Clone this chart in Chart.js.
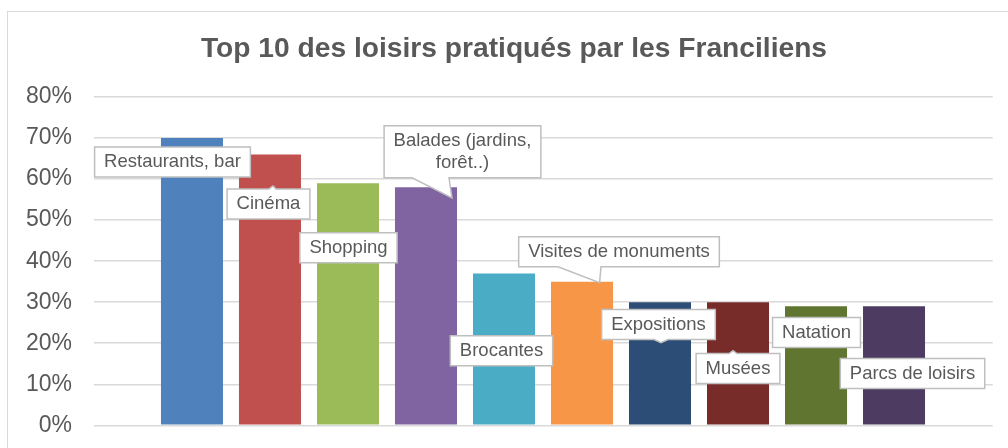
<!DOCTYPE html>
<html><head><meta charset="utf-8">
<script src="https://cdn.jsdelivr.net/npm/chart.js@4/dist/chart.umd.min.js"></script>
<style>
html,body{margin:0;padding:0;background:#fff;overflow:hidden;width:1008px;height:448px}
#frame{position:absolute;left:7px;top:11px;width:1100px;height:600px;border:1.5px solid #d9d9d9;box-sizing:border-box}
#wrap{position:absolute;left:0;top:0;width:1008px;height:448px}
</style></head><body>
<div id="frame"></div>
<div id="wrap"><canvas id="c" width="1008" height="448"></canvas></div>
<script>
// ---- data ----
const categories = ["Restaurants, bar", "Cinéma", "Shopping", "Balades (jardins,\nforêt..)", "Brocantes",
  "Visites de monuments", "Expositions", "Musées", "Natation", "Parcs de loisirs"];
const values = [70, 66, 59, 58, 37, 35, 30, 30, 29, 29];
const yTicks = [0, 10, 20, 30, 40, 50, 60, 70, 80];
const chartTitle = "Top 10 des loisirs pratiqués par les Franciliens";

// ---- styles ----
const barColors = ["#4F81BD", "#C0504D", "#9BBB59", "#8064A2", "#4BACC6",
  "#F79646", "#2C4D75", "#772C2A", "#5F7530", "#4D3B62"];
// callout placement: box centre offset from bar top-centre; pointer relative to box centre
const calloutPlacement = [
  {dx: -19.5, dy: 24},
  {dx: -1.5, dy: 49.4, ptr: {edge: "top", b1: 0.5, b2: 7.5, tx: 4.5, ty: -18}},
  {dx: 0.5, dy: 64.6},
  {dx: 36.5, dy: -35.5, ptr: {edge: "bottom", b1: -50.5, b2: -13.5, tx: -10.5, ty: 46}},
  {dx: -2.5, dy: 77.2},
  {dx: 37, dy: -30, ptr: {edge: "bottom", b1: -61, b2: -18, tx: -19.4, ty: 31}},
  {dx: -1.5, dy: 22.4, ptr: {edge: "bottom", b1: -4.5, b2: 9.5, tx: 2.5, ty: 18}},
  {dx: 0, dy: 66.4, ptr: {edge: "top", b1: -9, b2: -1, tx: -5, ty: -18}},
  {dx: 0.5, dy: 26.3},
  {dx: 18.5, dy: 67.3}
];

const FONT = "'Liberation Sans', Arial, sans-serif";

const calloutPlugin = {
  id: "callouts",
  afterDatasetsDraw(chart) {
    const ctx = chart.ctx;
    const meta = chart.getDatasetMeta(0);
    ctx.save();
    ctx.font = "18.5px " + FONT;
    meta.data.forEach((el, i) => {
      const p = calloutPlacement[i];
      const lines = categories[i].split("\n");
      const tw = Math.max(...lines.map(l => ctx.measureText(l).width));
      const w = tw + 19;
      const lh = 22.3;
      const h = lines.length === 1 ? 30 : 52;
      const cx = el.x + p.dx, cy = el.y + p.dy;
      const L = cx - w / 2, R = cx + w / 2, T = cy - h / 2, B = cy + h / 2;
      ctx.beginPath();
      ctx.moveTo(L, T);
      if (p.ptr && p.ptr.edge === "top") {
        ctx.lineTo(cx + p.ptr.b1, T);
        ctx.lineTo(cx + p.ptr.tx, cy + p.ptr.ty);
        ctx.lineTo(cx + p.ptr.b2, T);
      }
      ctx.lineTo(R, T);
      ctx.lineTo(R, B);
      if (p.ptr && p.ptr.edge === "bottom") {
        ctx.lineTo(cx + p.ptr.b2, B);
        ctx.lineTo(cx + p.ptr.tx, cy + p.ptr.ty);
        ctx.lineTo(cx + p.ptr.b1, B);
      }
      ctx.lineTo(L, B);
      ctx.closePath();
      ctx.fillStyle = "#ffffff";
      ctx.fill();
      ctx.lineWidth = 1.5;
      ctx.strokeStyle = "#bfbfbf";
      ctx.stroke();
      ctx.fillStyle = "#595959";
      ctx.textAlign = "center";
      ctx.textBaseline = "middle";
      const y0 = cy - (lines.length - 1) * lh / 2;
      lines.forEach((l, k) => ctx.fillText(l, cx, y0 + k * lh));
    });
    ctx.restore();
  }
};

new Chart(document.getElementById("c"), {
  type: "bar",
  data: {
    datasets: [{
      data: values.map((v, i) => ({x: i, y: v})),
      backgroundColor: barColors,
      borderWidth: 0,
      barPercentage: 0.795,
      categoryPercentage: 1
    }]
  },
  options: {
    responsive: false,
    devicePixelRatio: 1,
    animation: false,
    layout: {padding: {left: 20, right: 0, top: 0, bottom: 22.7}},
    plugins: {
      legend: {display: false},
      tooltip: {enabled: false},
      title: {
        display: true,
        text: chartTitle,
        color: "#595959",
        font: {family: FONT, size: 28.2, weight: "bold"},
        padding: {top: 32, bottom: 31.2}
      }
    },
    scales: {
      x: {
        type: "linear",
        display: false,
        offset: false,
        min: -1.256,
        max: 10.265
      },
      y: {
        min: 0,
        max: 80,
        afterBuildTicks: s => { s.ticks = yTicks.map(v => ({value: v})); },
        afterFit: s => { s.width = 74; },
        border: {display: false},
        grid: {color: "#d9d9d9", lineWidth: 1.5, drawTicks: true, tickLength: 22, tickColor: "rgba(0,0,0,0)"},
        ticks: {
          padding: 0,
          color: "#595959",
          font: {family: FONT, size: 23},
          callback: v => v + "%"
        }
      },
      yRight: {
        type: "linear",
        position: "right",
        display: true,
        min: 0,
        max: 80,
        afterFit: s => { s.width = 15.3; },
        border: {display: false},
        grid: {display: false, drawTicks: false},
        ticks: {display: false}
      }
    }
  },
  plugins: [calloutPlugin]
});
</script>
</body></html>
